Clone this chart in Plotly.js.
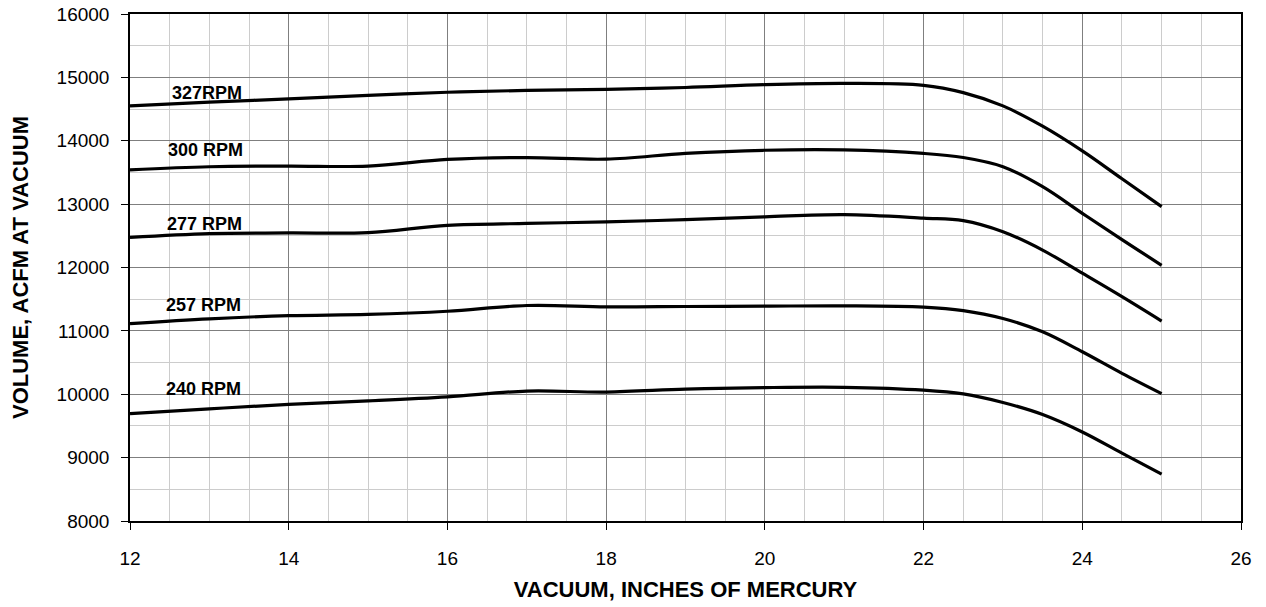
<!DOCTYPE html>
<html>
<head>
<meta charset="utf-8">
<script src="https://cdn.plot.ly/plotly-3.0.1.min.js"></script>
<style>html,body{margin:0;padding:0;background:#fff;}#chart{width:1266px;height:607px;}</style>
</head>
<body>
<div id="chart"></div>
<script>
const vacuum = [12, 13, 14, 15, 16, 17, 18, 19, 20, 21, 22, 22.5, 23, 23.5, 24, 24.5, 25];
const rpm327 = [14550, 14610, 14660, 14715, 14765, 14795, 14810, 14840, 14885, 14905, 14875, 14760, 14550, 14230, 13840, 13400, 12960];
const rpm300 = [13540, 13590, 13600, 13600, 13705, 13735, 13710, 13800, 13850, 13855, 13800, 13735, 13590, 13275, 12855, 12440, 12035];
const rpm277 = [12475, 12535, 12545, 12550, 12665, 12695, 12720, 12755, 12800, 12835, 12780, 12740, 12565, 12275, 11910, 11540, 11155];
const rpm257 = [11115, 11190, 11240, 11260, 11310, 11400, 11380, 11385, 11390, 11395, 11375, 11320, 11195, 10985, 10670, 10330, 10010];
const rpm240 = [9695, 9770, 9840, 9895, 9960, 10050, 10035, 10080, 10105, 10110, 10065, 10005, 9870, 9680, 9405, 9070, 8740];

const seriesNames = ['327RPM', '300 RPM', '277 RPM', '257 RPM', '240 RPM'];
const seriesValues = [rpm327, rpm300, rpm277, rpm257, rpm240];
const labelX = [12.97, 12.95, 12.94, 12.92, 12.92];
const labelY = [14758, 13853, 12680, 11406, 10090];

const traces = seriesValues.map((vals, i) => ({
  x: vacuum, y: vals, name: seriesNames[i], type: 'scatter', mode: 'lines',
  line: {color: '#000000', width: 3.2, shape: 'spline', smoothing: 1},
  hoverinfo: 'x+y+name'
}));

const annotations = seriesNames.map((t, i) => ({
  x: labelX[i], y: labelY[i], xref: 'x', yref: 'y', text: '<b>' + t + '</b>', showarrow: false,
  font: {family: 'Liberation Sans, Arial, sans-serif', size: 18, color: '#000'},
  xanchor: 'center', yanchor: 'middle'
}));

const layout = {
  width: 1266, height: 607,
  margin: {l: 130, r: 25, t: 14, b: 86},
  paper_bgcolor: '#ffffff', plot_bgcolor: '#ffffff',
  showlegend: false,
  font: {family: 'Liberation Sans, Arial, sans-serif', color: '#000'},
  xaxis: {
    range: [12, 26], tick0: 12, dtick: 2, tickmode: 'linear',
    showgrid: true, gridcolor: '#7f7f7f', gridwidth: 1,
    minor: {dtick: 0.5, showgrid: true, gridcolor: '#cccccc', gridwidth: 1},
    showline: true, linecolor: '#000', linewidth: 1.5, mirror: true,
    ticks: 'outside', ticklen: 7, tickcolor: '#000', tickwidth: 1,
    ticklabelstandoff: 12,
    tickfont: {size: 19, color: '#000'},
    zeroline: false,
    title: {text: '<b>VACUUM, INCHES OF MERCURY</b>', font: {size: 22, color: '#000'}, standoff: 14}
  },
  yaxis: {
    range: [8000, 16000], tick0: 8000, dtick: 1000, tickmode: 'linear',
    showgrid: true, gridcolor: '#7f7f7f', gridwidth: 1,
    minor: {dtick: 500, showgrid: true, gridcolor: '#cccccc', gridwidth: 1},
    showline: true, linecolor: '#000', linewidth: 1.5, mirror: true,
    ticks: 'outside', ticklen: 7, tickcolor: '#000', tickwidth: 1,
    ticklabelstandoff: 8,
    tickformat: 'd', separatethousands: false,
    tickfont: {size: 19, color: '#000'},
    zeroline: false,
    title: {text: '<b>VOLUME, ACFM AT VACUUM</b>', font: {size: 22, color: '#000'}, standoff: 22}
  },
  annotations: annotations
};

Plotly.newPlot('chart', traces, layout, {displayModeBar: false});
</script>
</body>
</html>
